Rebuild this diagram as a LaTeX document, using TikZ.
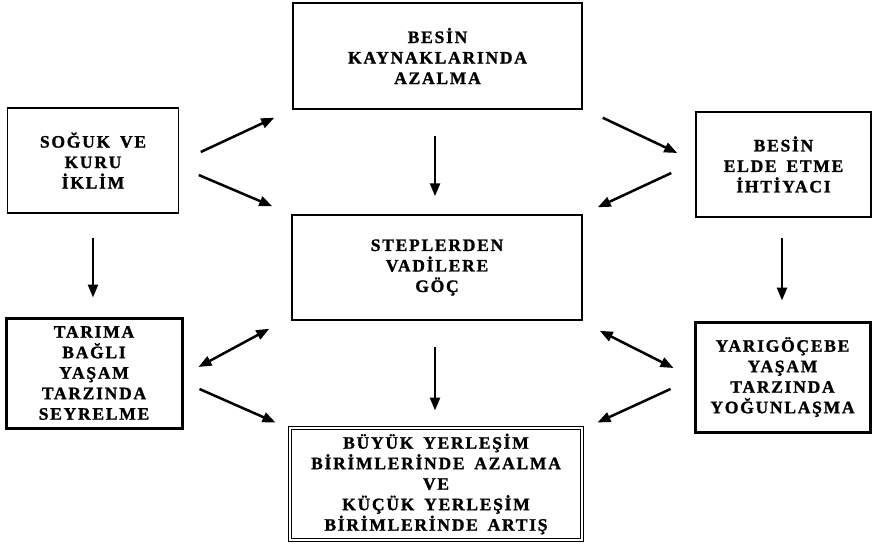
\documentclass[tikz,border=0pt]{standalone}
\usepackage{fontspec}
\setmainfont{Liberation Serif}
\newfontfamily\kutufont{Liberation Serif}[LetterSpace=10, WordSpace=1.6, BoldFeatures={FakeBold=1.3}]
\usetikzlibrary{arrows.meta}
\tikzset{
	kutu/.style={draw, line width=1.5pt, align=center, inner sep=0pt,
				 font=\kutufont\bfseries\fontsize{17.5}{20.5}\selectfont},
	kalin/.style={kutu, line width=3pt},
	cift/.style={kutu, double, double distance=2.4pt, line width=1pt},
}
\tikzset{
	>={Triangle[length=13pt,width=10pt]},
	every picture/.style={->, line width=2.5pt},
}
\begin{document}
\begin{tikzpicture}[x=1pt, y=-1pt]
\useasboundingbox (0,0) rectangle (874,544);

\node[kutu, minimum width=289pt, minimum height=106pt](kaynak) at (437.5,56) {BESİN\\KAYNAKLARINDA\\AZALMA};
\node[kutu, minimum width=171pt, minimum height=105pt](iklim) at (93,160.5) {SOĞUK VE\\KURU\\İKLİM};
\node[kutu, minimum width=175pt, minimum height=105pt](ihtiyac) at (783.5,164.5) {BESİN\\ELDE ETME\\İHTİYACI};
\node[kutu, minimum width=290pt, minimum height=105pt](goc) at (437,267.5) {STEPLERDEN\\VADİLERE\\GÖÇ};
\node[kalin, minimum width=176pt, minimum height=110pt](tarim) at (94,373) {TARIMA\\BAĞLI\\YAŞAM\\TARZINDA\\SEYRELME};
\node[kalin, minimum width=175pt, minimum height=110pt](yari) at (782.5,377) {YARIGÖÇEBE\\YAŞAM\\TARZINDA\\YOĞUNLAŞMA};
\node[cift, minimum width=292pt, minimum height=112pt](yerlesim) at (436,484) {BÜYÜK YERLEŞİM\\BİRİMLERİNDE AZALMA\\VE\\KÜÇÜK YERLEŞİM\\BİRİMLERİNDE ARTIŞ};

% ust sira
\draw ([shift={(21.5,-8.5)}]iklim.east) -- ([shift={(-18,8)}]kaynak.south west);
\draw ([shift={(19.5,14.5)}]iklim.east) -- ([shift={(-19,-8)}]goc.north west);
\draw ([shift={(-2.5,26)}]kaynak.south) -- ([shift={(-2,-18)}]goc.north);
\draw ([shift={(20,8)}]kaynak.south east) -- ([shift={(-18,-11.5)}]ihtiyac.west);
\draw ([shift={(-24,8.5)}]ihtiyac.west) -- ([shift={(15,-7)}]goc.north east);

% asagi
\draw ([shift={(0,24)}]iklim.south) -- ([shift={(-1,-19)}]tarim.north);
\draw ([shift={(-1.5,20)}]ihtiyac.south) -- ([shift={(-0.5,-20)}]yari.north);

% alt sira
\draw[<->] ([shift={(-22,8)}]goc.south west) -- ([shift={(15,-6)}]tarim.east);
\draw ([shift={(16,16)}]tarim.east) -- ([shift={(-14,-5)}]yerlesim.north west);
\draw ([shift={(-2,26)}]goc.south) -- ([shift={(-1,-17)}]yerlesim.north);
\draw[<->] ([shift={(17,10)}]goc.south east) -- ([shift={(-20,-9)}]yari.west);
\draw ([shift={(-23,12)}]yari.west) -- ([shift={(15,-5)}]yerlesim.north east);

\end{tikzpicture}
\end{document}
